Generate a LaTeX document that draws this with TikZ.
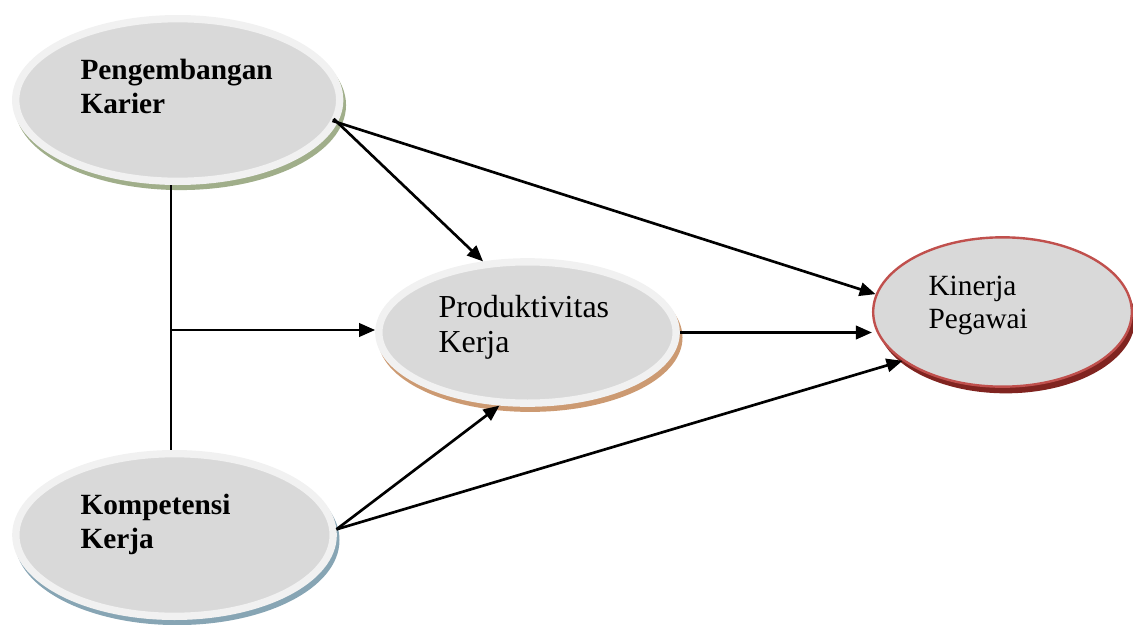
\documentclass[tikz,border=0pt]{standalone}
\usepackage{fontspec}
\setmainfont{Liberation Serif}
\usetikzlibrary{shapes.geometric,shadows,arrows.meta}

\definecolor{fillgray}{RGB}{217,217,217}
\definecolor{ringgray}{RGB}{241,241,241}
\definecolor{pkshade}{RGB}{160,174,138}
\definecolor{prodshade}{RGB}{204,154,114}
\definecolor{kompshade}{RGB}{135,165,180}
\definecolor{kinred}{RGB}{192,80,77}
\definecolor{kinshade}{RGB}{128,36,32}

\tikzset{every picture/.style={line width=0.75pt}}
\tikzset{
  oval/.style={ellipse, inner sep=0pt, fill=fillgray, draw=ringgray, line width=5.5pt},
  ovalshade/.style={general shadow={fill=#1, draw=#1, line width=5.5pt, shadow xshift=2pt, shadow yshift=-3.8pt}},
  varbold/.style={anchor=base west, inner sep=0pt, align=left, font=\fontsize{22}{25.5}\selectfont\bfseries},
  varplain/.style={anchor=base west, inner sep=0pt, align=left, font=\fontsize{22}{24.75}\selectfont},
  pathline/.style={line width=2pt, -{Triangle[length=12pt,width=10pt]}},
}

\begin{document}
\begin{tikzpicture}[x=0.75pt,y=0.75pt,yscale=-1,xscale=1]
\useasboundingbox (0,0) rectangle (1133,625);

% Ellipses
\node [oval, ovalshade=pkshade, minimum width=243pt, minimum height=122pt] (pk) at (177.7,100) {};
\node [oval, ovalshade=prodshade, minimum width=223pt, minimum height=106pt] (prod) at (527.5,332.5) {};
\node [oval, ovalshade=kompshade, minimum width=238pt, minimum height=122pt] (komp) at (174.5,535) {};
\node [ellipse, inner sep=0pt, fill=fillgray, draw=kinred, line width=1.8pt,
       general shadow={fill=kinshade, shadow xshift=2.5pt, shadow yshift=-5pt},
       minimum width=194pt, minimum height=112pt] (kin) at (1002.5,312) {};

% Labels (base anchor sits on the last line)
\node [varbold] (pktext) at (80,113) {Pengembangan\\Karier};
\node [varbold] (komptext) at (80,548) {Kompetensi\\Kerja};
\node [varplain, font=\fontsize{24}{26.25}\selectfont] (prodtext) at (438,352) {Produktivitas\\Kerja};
\node [varplain] (kintext) at (928,328) {Kinerja\\Pegawai};

% Connectors
\coordinate (split) at (171,330);
\draw [line width=1.5pt] (split |- pk.south) -- (split |- komp.north);
\draw [pathline] (split) -- (split -| prod.west);
\draw [pathline, shorten <=-4pt] (pk.-8) -- (prod.122);
\draw [pathline, shorten <=-4pt] (pk.-8) -- (kin.172);
\draw [pathline] (prod.east) -- (prod.east -| kin.west);
\draw [pathline] (komp.2) -- (prod.249);
\draw [pathline] (komp.2) -- (kin.206);

\end{tikzpicture}
\end{document}
